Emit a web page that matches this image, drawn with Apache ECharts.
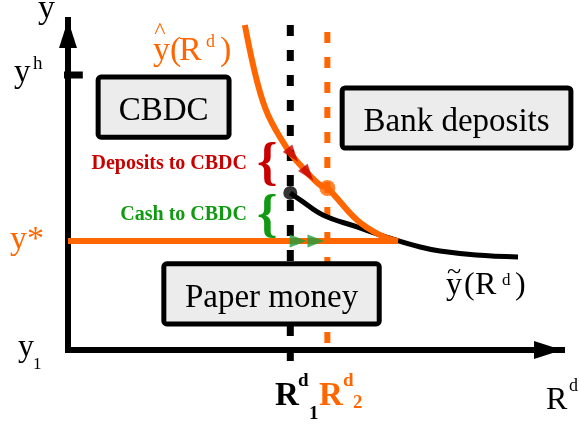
<!DOCTYPE html>
<html>
<head>
<meta charset="utf-8">
<script src="https://cdn.jsdelivr.net/npm/echarts@6/dist/echarts.min.js"></script>
<style>
html, body { margin: 0; padding: 0; background: #fff; }
#figure { width: 579px; height: 425px; }
</style>
</head>
<body>
<div id="figure"></div>
<script>
// values on the abstract axes: R^d (horizontal) and y (vertical), both 0..10
let rd1 = 4.5;
let rd2 = 5.25;
let y_star = 3.3;
let y_h = 8.33;

// y~(R^d) curve
let tilde_rd = [4.5, 4.7, 5.16, 5.85, 6.52, 7.13, 7.53, 8.26, 9.11];
let tilde_y = [4.76, 4.55, 4.09, 3.73, 3.39, 3.12, 3.0, 2.88, 2.82];

// y^(R^d) curve
let hat_rd = [3.58, 3.83, 4.05, 4.43, 4.7, 5.1, 5.25, 5.85, 6.32, 6.68];
let hat_y = [9.85, 8.12, 7.12, 6.12, 5.61, 5.0, 4.91, 3.94, 3.48, 3.3];

// dashed guides and the y* floor
let rd1_span = [9.85, -0.39];
let rd2_span = [9.64, 0];
let y_star_span = [0, 6.68];
let y_h_tick = [-0.36, 0.3];

// equilibrium dots (black on y~, orange on y^)
let dot_rd = [4.5, 5.25];
let dot_y = [4.76, 4.91];

// flow arrows
let dep_arrow_rd = [4.55, 4.86];
let dep_arrow_y = [5.91, 5.33];
let cash_arrow_rd = [4.66, 5.02];

// region boxes
let box_names = ['CBDC', 'Bank deposits', 'Paper money'];
let box_rd0 = [0.61, 5.55, 1.94];
let box_y0 = [8.27, 7.94, 2.61];
let box_rd1 = [3.26, 10.18, 6.3];
let box_y1 = [6.45, 6.12, 0.79];

const ORANGE = '#ff6600';
const RED = '#c80000';
const GREEN = '#119911';
const SERIF = '"Liberation Serif", "Times New Roman", serif';

function zip(a, b) {
    let out = [];
    for (let i = 0; i < a.length; i++) {
        out.push([a[i], b[i]]);
    }
    return out;
}

// text placed by its baseline
function txt(text, x, base, size, color, bold, align) {
    return {
        type: 'text',
        x: x,
        y: base - 0.2 * size,
        z: 100,
        style: {
            text: text,
            fontSize: size,
            fontFamily: SERIF,
            fontWeight: bold ? 'bold' : 'normal',
            fill: color,
            align: align || 'left',
            verticalAlign: 'middle'
        }
    };
}

function axis_line() {
    return {
        show: true,
        onZero: true,
        symbol: ['none', 'triangle'],
        symbolSize: [18, 28],
        symbolOffset: [0, -14],
        lineStyle: {color: '#000', width: 6, cap: 'square'}
    };
}

let box_data = [];
for (let i = 0; i < box_names.length; i++) {
    box_data.push([box_rd0[i], box_y0[i], box_rd1[i], box_y1[i]]);
}

let figure = document.getElementById('figure');
let myChart = echarts.init(figure, null, {renderer: 'canvas'});

let texts = [
    // axis names and tick marks
    txt('y', 38, 16, 34, '#000'),
    txt('y', 14, 80, 33, '#000'),
    txt('h', 33, 68, 19, '#000'),
    txt('y*', 10, 247, 34, ORANGE),
    txt('y', 18, 354, 32, '#000'),
    txt('1', 33, 368, 17, '#000'),
    txt('R', 546, 407, 32, '#000'),
    txt('d', 569, 390, 18, '#000'),
    txt('R', 275, 403, 33, '#000', true),
    txt('d', 298, 385, 19, '#000', true),
    txt('1', 309, 418, 19, '#000', true),
    txt('R', 319, 403, 33, ORANGE, true),
    txt('d', 343, 385, 19, ORANGE, true),
    txt('2', 353, 407, 19, ORANGE, true),
    // curve names
    txt('^', 160, 37, 24, ORANGE, false, 'center'),
    txt('y', 153, 58, 34, ORANGE),
    txt('(', 170, 58, 34, ORANGE),
    txt('R', 179, 58, 34, ORANGE),
    txt('d', 206, 46, 18, ORANGE),
    txt(')', 220, 58, 34, ORANGE),
    txt('~', 454, 277, 26, '#000', false, 'center'),
    txt('y', 446, 292, 32, '#000'),
    txt('(', 464, 292, 32, '#000'),
    txt('R', 475, 292, 32, '#000'),
    txt('d', 502, 284, 17, '#000'),
    txt(')', 515, 292, 32, '#000'),
    // flows
    txt('Deposits to CBDC', 247, 168, 20, RED, true, 'right'),
    txt('Cash to CBDC', 247, 219, 20, GREEN, true, 'right'),
    txt('{', 257, 176, 52, RED, true),
    txt('{', 257, 228, 52, GREEN, true)
];

let option = {
    animation: false,
    backgroundColor: '#fff',
    grid: {left: 68, right: 17, top: 20, bottom: 75},
    xAxis: {
        type: 'value', min: 0, max: 10,
        axisLine: axis_line(),
        axisTick: {show: false}, axisLabel: {show: false}, splitLine: {show: false}
    },
    yAxis: {
        type: 'value', min: 0, max: 10,
        axisLine: axis_line(),
        axisTick: {show: false}, axisLabel: {show: false}, splitLine: {show: false}
    },
    series: [
        {
            name: 'R1', type: 'line', z: 2, clip: false, symbol: 'none',
            data: [[rd1, rd1_span[0]], [rd1, rd1_span[1]]],
            lineStyle: {color: '#000', width: 7, type: [11, 14]}
        },
        {
            name: 'R2', type: 'line', z: 2, clip: false, symbol: 'none',
            data: [[rd2, rd2_span[0]], [rd2, rd2_span[1]]],
            lineStyle: {color: ORANGE, width: 6, type: [11, 14]}
        },
        {
            name: 'y tilde', type: 'line', z: 3, clip: false, symbol: 'none', smooth: 0.4,
            data: zip(tilde_rd, tilde_y),
            lineStyle: {color: '#000', width: 5}
        },
        {
            name: 'y star', type: 'line', z: 4, clip: false, symbol: 'none',
            data: [[y_star_span[0], y_star], [y_star_span[1], y_star]],
            lineStyle: {color: ORANGE, width: 6}
        },
        {
            name: 'y hat', type: 'line', z: 4, clip: false, symbol: 'none', smooth: 0.4,
            data: zip(hat_rd, hat_y),
            lineStyle: {color: ORANGE, width: 6}
        },
        {
            name: 'y h', type: 'line', z: 4, clip: false, symbol: 'none',
            data: [[y_h_tick[0], y_h], [y_h_tick[1], y_h]],
            lineStyle: {color: '#000', width: 7}
        },
        {
            name: 'boxes', type: 'custom', z: 6, clip: false,
            data: box_data,
            renderItem: function (params, api) {
                let p0 = api.coord([api.value(0), api.value(1)]);
                let p1 = api.coord([api.value(2), api.value(3)]);
                return {
                    type: 'rect',
                    shape: {x: p0[0], y: p0[1], width: p1[0] - p0[0], height: p1[1] - p0[1], r: 3},
                    style: {fill: '#ececec', stroke: '#000', lineWidth: 5}
                };
            }
        },
        {
            name: 'dots', type: 'scatter', z: 8,
            data: [
                {value: [dot_rd[0], dot_y[0]], symbolSize: 14, itemStyle: {color: '#000'}},
                {value: [dot_rd[1], dot_y[1]], symbolSize: 16, itemStyle: {color: ORANGE}}
            ]
        },
        {
            name: 'deposit arrows', type: 'scatter', z: 9,
            symbol: 'triangle', symbolSize: [12, 17], symbolRotate: -142,
            itemStyle: {color: RED},
            data: zip(dep_arrow_rd, dep_arrow_y)
        },
        {
            name: 'cash arrows', type: 'scatter', z: 9,
            symbol: 'triangle', symbolSize: [13, 17], symbolRotate: -90,
            itemStyle: {color: '#1f9e3f'},
            data: zip(cash_arrow_rd, [y_star, y_star])
        }
    ],
    graphic: texts
};

myChart.setOption(option);

// box captions, centred on each box through the chart's own scales
for (let i = 0; i < box_names.length; i++) {
    let p0 = myChart.convertToPixel({gridIndex: 0}, [box_rd0[i], box_y0[i]]);
    let p1 = myChart.convertToPixel({gridIndex: 0}, [box_rd1[i], box_y1[i]]);
    let cx = (p0[0] + p1[0]) / 2;
    let cy = (p0[1] + p1[1]) / 2;
    texts.push(txt(box_names[i], cx, cy + 11, 33, '#000', false, 'center'));
}
myChart.setOption({graphic: texts});
</script>
</body>
</html>
